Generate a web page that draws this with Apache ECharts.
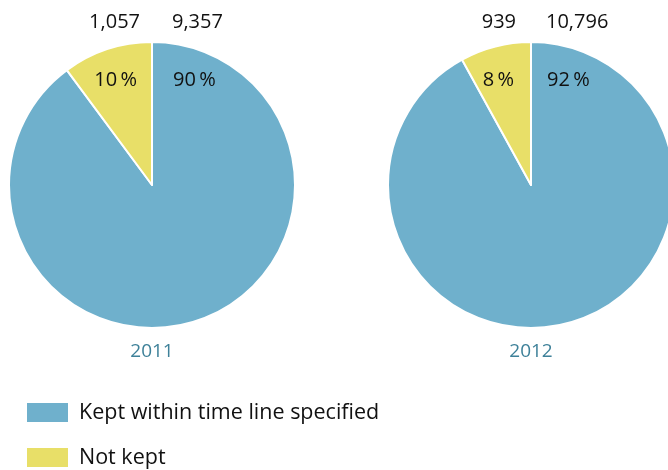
<!DOCTYPE html>
<html><head><meta charset="utf-8">
<script src="https://cdn.jsdelivr.net/npm/echarts@6/dist/echarts.min.js"></script>
<style>html,body{margin:0;padding:0;background:#fff}#c{width:668px;height:470px}</style>
</head><body><div id="c"></div>
<script>
var years = ['2011', '2012'];
var categories = ['Kept within time line specified', 'Not kept'];
var keptValues = [9357, 10796];
var notKeptValues = [1057, 939];
var colors = ['#6FB0CC', '#E8DF68'];

var FONT = 'Open Sans';
var layout = [
  {cx: 152, cy: 185, r: 143, leftEdge: 140, rightStart: 172, pLeftEdge: 137, pRightStart: 173},
  {cx: 531, cy: 185, r: 143, leftEdge: 516, rightStart: 546, pLeftEdge: 514, pRightStart: 547}
];
function fmt(n){ return n.toLocaleString('en-US'); }

var series = [];
var graphics = [];
years.forEach(function(y, i){
  var L = layout[i];
  var total = keptValues[i] + notKeptValues[i];
  var pk = Math.round(keptValues[i] / total * 100);
  var pn = Math.round(notKeptValues[i] / total * 100);
  series.push({
    type: 'pie', name: y, center: [L.cx, L.cy], radius: [0, L.r],
    startAngle: 90, clockwise: true, animation: false, silent: true,
    label: {show: false}, labelLine: {show: false},
    itemStyle: {borderColor: '#fff', borderWidth: 2},
    data: [
      {name: categories[0], value: keptValues[i], itemStyle: {color: colors[0]}},
      {name: categories[1], value: notKeptValues[i], itemStyle: {color: colors[1]}}
    ]
  });
  var base = {fontFamily: FONT, fontSize: 20, fill: '#111'};
  graphics.push({type: 'text', x: L.leftEdge, y: 22, style: Object.assign({}, base, {text: fmt(notKeptValues[i]), textAlign: 'right', textVerticalAlign: 'middle'})});
  graphics.push({type: 'text', x: L.rightStart, y: 22, style: Object.assign({}, base, {text: fmt(keptValues[i]), textAlign: 'left', textVerticalAlign: 'middle'})});
  graphics.push({type: 'text', x: L.pLeftEdge, y: 80, z: 10, style: Object.assign({}, base, {text: pn + '\u2009%', textAlign: 'right', textVerticalAlign: 'middle'})});
  graphics.push({type: 'text', x: L.pRightStart, y: 80, z: 10, style: Object.assign({}, base, {text: pk + '\u2009%', textAlign: 'left', textVerticalAlign: 'middle'})});
  graphics.push({type: 'text', x: L.cx, y: 352, style: {text: y, fontFamily: FONT, fontSize: 19, fill: '#3E8199', textAlign: 'center', textVerticalAlign: 'middle'}});
});

var chart = echarts.init(document.getElementById('c'), null, {renderer: 'canvas'});
chart.setOption({
  animation: false,
  legend: {
    orient: 'vertical', left: 25, top: 401, padding: 0, itemWidth: 43, itemHeight: 21, itemGap: 22,
    icon: 'rect', selectedMode: false,
    textStyle: {fontFamily: FONT, fontSize: 21.5, color: '#111', padding: [0, 0, 0, 5]},
    data: categories
  },
  series: series,
  graphic: graphics
});
</script></body></html>
